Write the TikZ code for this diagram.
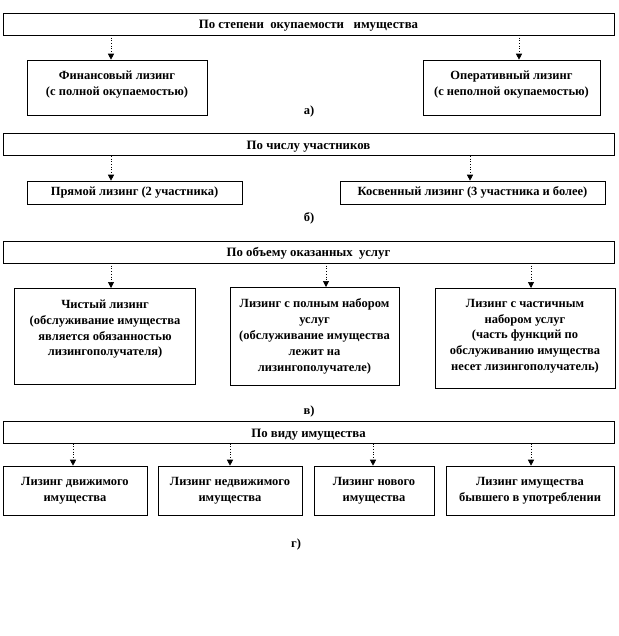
\documentclass[tikz,border=0pt]{standalone}
\usepackage{fontspec}
\setmainfont{Liberation Serif}
\usetikzlibrary{arrows.meta}
\begin{document}
\begin{tikzpicture}[x=1pt,y=-1pt,
  hdr/.style={draw=black,line width=0.6pt,minimum height=22pt,font=\bfseries\fontsize{12.8}{15}\selectfont,inner sep=0pt,text height=10.5pt,text depth=1pt},
  leaf/.style={draw=black,line width=0.6pt,font=\bfseries\fontsize{12.5}{15.8}\selectfont,align=center,inner sep=0pt},
  arr/.style={dotted,line width=0.7pt,-{Triangle[length=6pt,width=6pt]}},
  lbl/.style={font=\bfseries\fontsize{12.5}{15}\selectfont}]
\useasboundingbox (0,0) rectangle (618,636);
% a)
\node[hdr,minimum width=611pt] (hA) at (308.5,24) {По степени \ окупаемости \ \ имущества};
\node[leaf,minimum width=180pt,minimum height=55pt,text depth=9pt] (a1) at (117,87.5) {Финансовый лизинг\\(с полной окупаемостью)};
\node[leaf,minimum width=177pt,minimum height=55pt,text depth=9pt] (a2) at (511.5,87.5) {Оперативный лизинг\\(с неполной окупаемостью)};
\coordinate (ca1) at (111,35);
\coordinate (ca2) at (519,35);
\draw[arr] (ca1) -- (ca1 |- a1.north);
\draw[arr] (ca2) -- (ca2 |- a2.north);
\node[lbl] (la) at (309,111) {а)};
% b)
\node[hdr,minimum width=611pt] (hB) at (308.5,144.5) {По числу участников};
\node[leaf,minimum width=215pt,minimum height=23pt] (b1) at (134.5,192.5) {Прямой лизинг (2 участника)};
\node[leaf,minimum width=265pt,minimum height=23pt] (b2) at (472.5,192.5) {Косвенный лизинг (3 участника и более)};
\coordinate (cb1) at (111,156);
\coordinate (cb2) at (470,156);
\draw[arr] (cb1) -- (cb1 |- b1.north);
\draw[arr] (cb2) -- (cb2 |- b2.north);
\node[lbl] (lb) at (309,218) {б)};
% c)
\node[hdr,minimum width=611pt] (hC) at (308.5,252) {По объему оказанных \ услуг};
\node[leaf,minimum width=181pt,minimum height=96pt,anchor=north,text depth=17pt] (c1) at (105,288) {Чистый лизинг\\(обслуживание имущества\\является обязанностью\\лизингополучателя)};
\node[leaf,minimum width=169pt,minimum height=98pt,anchor=north] (c2) at (314.5,287) {Лизинг с полным набором\\услуг\\(обслуживание имущества\\лежит на\\лизингополучателе)};
\node[leaf,minimum width=180pt,minimum height=100pt,anchor=north,text depth=7pt] (c3) at (525,288) {Лизинг с частичным\\набором услуг\\(часть функций по\\обслуживанию имущества\\несет лизингополучатель)};
\coordinate (cc1) at (111,263);
\coordinate (cc2) at (326,263);
\coordinate (cc3) at (531,263);
\draw[arr] (cc1) -- (cc1 |- c1.north);
\draw[arr] (cc2) -- (cc2 |- c2.north);
\draw[arr] (cc3) -- (cc3 |- c3.north);
\node[lbl] (lc) at (309,411) {в)};
% d)
\node[hdr,minimum width=611pt] (hD) at (308.5,432.5) {По виду имущества};
\node[leaf,minimum width=144pt,minimum height=49pt] (d1) at (75,490.5) {Лизинг движимого\\имущества};
\node[leaf,minimum width=144pt,minimum height=49pt] (d2) at (230,490.5) {Лизинг недвижимого\\имущества};
\node[leaf,minimum width=120pt,minimum height=49pt] (d3) at (374,490.5) {Лизинг нового\\имущества};
\node[leaf,minimum width=168pt,minimum height=49pt] (d4) at (530,490.5) {Лизинг имущества\\бывшего в употреблении};
\coordinate (cd1) at (73,443.5);
\coordinate (cd2) at (230,443.5);
\coordinate (cd3) at (373,443.5);
\coordinate (cd4) at (531,443.5);
\draw[arr] (cd1) -- (cd1 |- d1.north);
\draw[arr] (cd2) -- (cd2 |- d2.north);
\draw[arr] (cd3) -- (cd3 |- d3.north);
\draw[arr] (cd4) -- (cd4 |- d4.north);
\node[lbl] (ld) at (296,544) {г)};
\end{tikzpicture}
\end{document}
